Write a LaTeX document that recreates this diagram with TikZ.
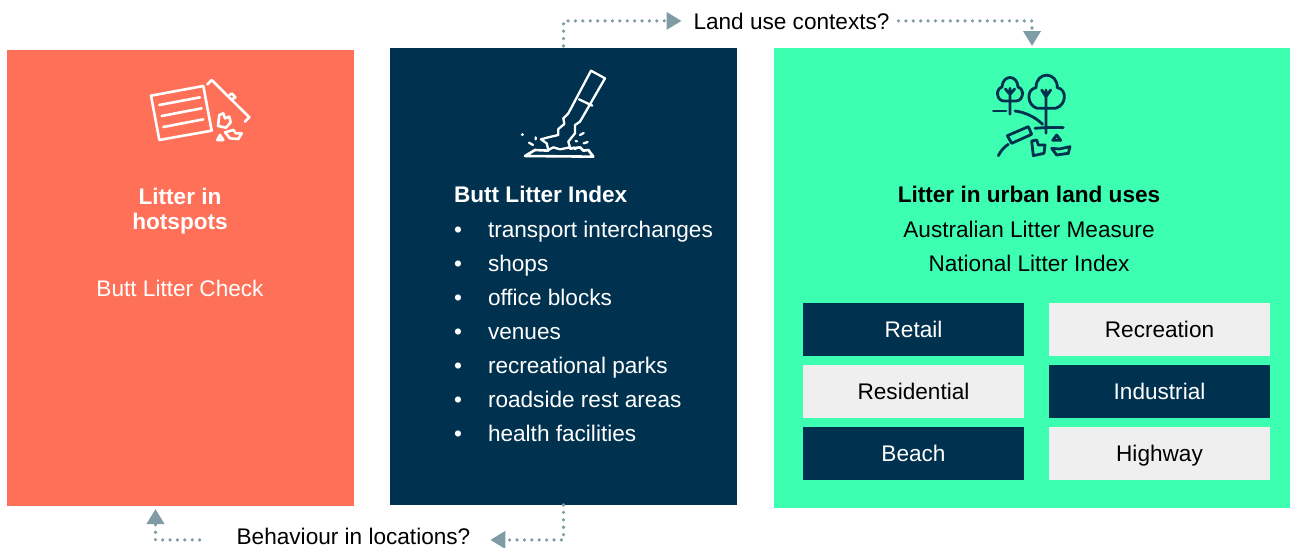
\documentclass[tikz,border=0pt]{standalone}
\usepackage{fontspec}
\setmainfont{Liberation Sans}
\usetikzlibrary{arrows.meta}
\definecolor{salmon}{HTML}{FF7058}
\definecolor{navy}{HTML}{00324F}
\definecolor{mint}{HTML}{3DFFB2}
\definecolor{pale}{HTML}{EFEFEF}
\definecolor{dotc}{HTML}{7F9BA3}
\newcommand{\fsz}{\fontsize{22.6}{25}\selectfont}
\tikzset{
  panel/.style={inner sep=0pt,outer sep=0pt,anchor=north west},
  tag/.style={inner sep=0pt,outer sep=0pt,minimum width=221pt,minimum height=53pt,anchor=north west,font=\fsz,text height=20pt,text depth=5pt},
  tagd/.style={tag,fill=navy,text=white},
  tagl/.style={tag,fill=pale,text=black},
  txt/.style={inner sep=0pt,outer sep=0pt,font=\fsz},
  listitem/.style={txt,anchor=base west,text=white},
  bul/.style={txt,anchor=base,text=white},
  dots/.style={dotc,line width=3.6pt,line cap=round,dash pattern=on 0pt off 7.4pt,-{Triangle[length=15pt,width=17pt]}},
}
\begin{document}
\begin{tikzpicture}[x=1pt,y=-1pt]
\useasboundingbox (0,0) rectangle (1290,547);
\fill[white] (0,0) rectangle (1290,547);
% panels
\node[panel,fill=salmon,minimum width=347pt,minimum height=456pt] (red) at (7,50) {};
\node[panel,fill=navy,minimum width=347pt,minimum height=457pt] (blue) at (390,48) {};
\node[panel,fill=mint,minimum width=516pt,minimum height=460pt] (green) at (774,48) {};
% red text
\node[txt,text=white,anchor=base,font=\fsz\bfseries] (rt1) at (180,204) {Litter in};
\node[txt,text=white,anchor=base,font=\fsz\bfseries] (rt2) at (180,229) {hotspots};
\node[txt,text=white,anchor=base] (rt3) at (180,296) {Butt Litter Check};
% blue text
\node[listitem,font=\fsz\bfseries] (bt) at (454,202) {Butt Litter Index};
\foreach \n/\y/\t in {a/237/transport interchanges,b/271/shops,c/305/office blocks,d/339/venues,e/373/recreational parks,f/407/roadside rest areas,g/441/health facilities}{
  \node[bul] (bu\n) at (458,\y) {•};
  \node[listitem] (li\n) at (488,\y) {\t};
}
% green text
\node[txt,anchor=base,font=\fsz\bfseries] (gt1) at (1029,202) {Litter in urban land uses};
\node[txt,anchor=base] (gt2) at (1029,237) {Australian Litter Measure};
\node[txt,anchor=base] (gt3) at (1029,271) {National Litter Index};
% tags
\node[tagd] (retail) at (803,303) {Retail};
\node[tagl] (recr) at (1049,303) {Recreation};
\node[tagl] (resi) at (803,365) {Residential};
\node[tagd] (indu) at (1049,365) {Industrial};
\node[tagd] (beach) at (803,427) {Beach};
\node[tagl] (high) at (1049,427) {Highway};
% labels
\node[txt,anchor=base,inner xsep=12pt] (use) at (791.5,29) {Land use contexts?};
\node[txt,anchor=base,inner xsep=20pt] (beh) at (353.5,544) {Behaviour in locations?};
% connectors
\draw[dots] ([yshift=2pt]blue.north) |- (use.west);
\draw[dots] ([xshift=-3pt]use.east) -| ([yshift=2pt]green.north);
\draw[dots] (blue.south) |- ([yshift=-4pt]beh.east);
\draw[dots] ([xshift=-17pt,yshift=-4pt]beh.west) -| ([xshift=-25pt,yshift=-3pt]red.south);
% icon 1
\begin{scope}[shift={(130,65)},x=0.3333pt,y=-0.3333pt,white,line width=2.6pt,line join=round,line cap=round]
\draw (63,92) -- (220,63) -- (245,197) -- (88,225) -- cycle;
\draw (88,120) -- (210,97) (95,153) -- (215,130) (100,186) -- (220,163);
\draw (232,58) -- (245,45) -- (358,157) -- (345,170);
\draw (298,90) -- (306,86) -- (316,97) -- (308,102);
\draw (268,150) -- (280,145) -- (285,160) -- (298,155) -- (302,172) -- (288,188) -- (264,183) -- cycle;
\draw (262,225) -- (270,210) -- (280,225) -- cycle;
\draw (285,202) -- (310,195) -- (318,205) -- (335,205) -- (325,222) -- (300,220) -- cycle;
\end{scope}
% icon 2
\begin{scope}[shift={(505,60)},x=0.3333pt,y=-0.3333pt,white,line width=2.3pt,line join=round,line cap=round]
\draw (190,160) -- (258,32) -- (300,55) -- (225,185);
\draw (222,118) -- (262,137);
\draw (190,160) -- (175,175) -- (178,192) -- (160,207) -- (160,225) -- (130,232) -- (108,238) -- (125,250) -- (130,270) -- (145,262) -- (165,268) -- (195,262) -- (190,245) -- (210,220) -- (210,195) -- (225,185);
\draw[line width=2.6pt] (130,272) -- (90,270) -- (60,288) -- (265,290) -- (250,270) -- (235,272) -- (225,262) -- (195,266);
\fill (52,224) circle (5);
\draw (92,232) -- (92,238) (72,248) -- (84,255) (225,225) -- (236,219) (236,250) -- (248,246) (212,243) -- (216,244) (205,262) -- (212,268);
\end{scope}
% icon 3
\begin{scope}[shift={(980,65)},x=0.3333pt,y=-0.3333pt,navy,line width=2.8pt,line join=round,line cap=round]
\draw (90,70) -- (90,148) (76,72) -- (90,88) -- (104,72);
\draw (72,108) .. controls (50,108) and (45,72) .. (66,66) .. controls (68,28) and (112,28) .. (114,66) .. controls (135,72) and (130,108) .. (108,108) -- cycle;
\draw (198,75) -- (198,205) (185,75) -- (198,95) -- (212,75);
\draw (172,130) .. controls (140,122) and (138,72) .. (168,68) .. controls (168,18) and (232,18) .. (232,68) .. controls (262,72) and (260,122) .. (226,130) -- cycle;
\draw (40,138) -- (78,138);
\draw (105,138) .. controls (140,142) and (170,160) .. (188,178);
\draw (165,190) .. controls (195,187) and (225,187) .. (250,188);
\draw (82,212) -- (145,185) -- (155,208) -- (95,235) -- cycle;
\draw (55,272) .. controls (62,258) and (72,246) .. (85,238);
\draw (155,228) -- (170,225) -- (175,240) -- (195,240) -- (192,265) -- (160,272) -- cycle;
\draw (218,226) -- (230,210) -- (242,226) -- cycle;
\draw (215,250) -- (238,252) -- (270,245) -- (265,265) -- (230,270) -- cycle;
\end{scope}
\end{tikzpicture}
\end{document}
